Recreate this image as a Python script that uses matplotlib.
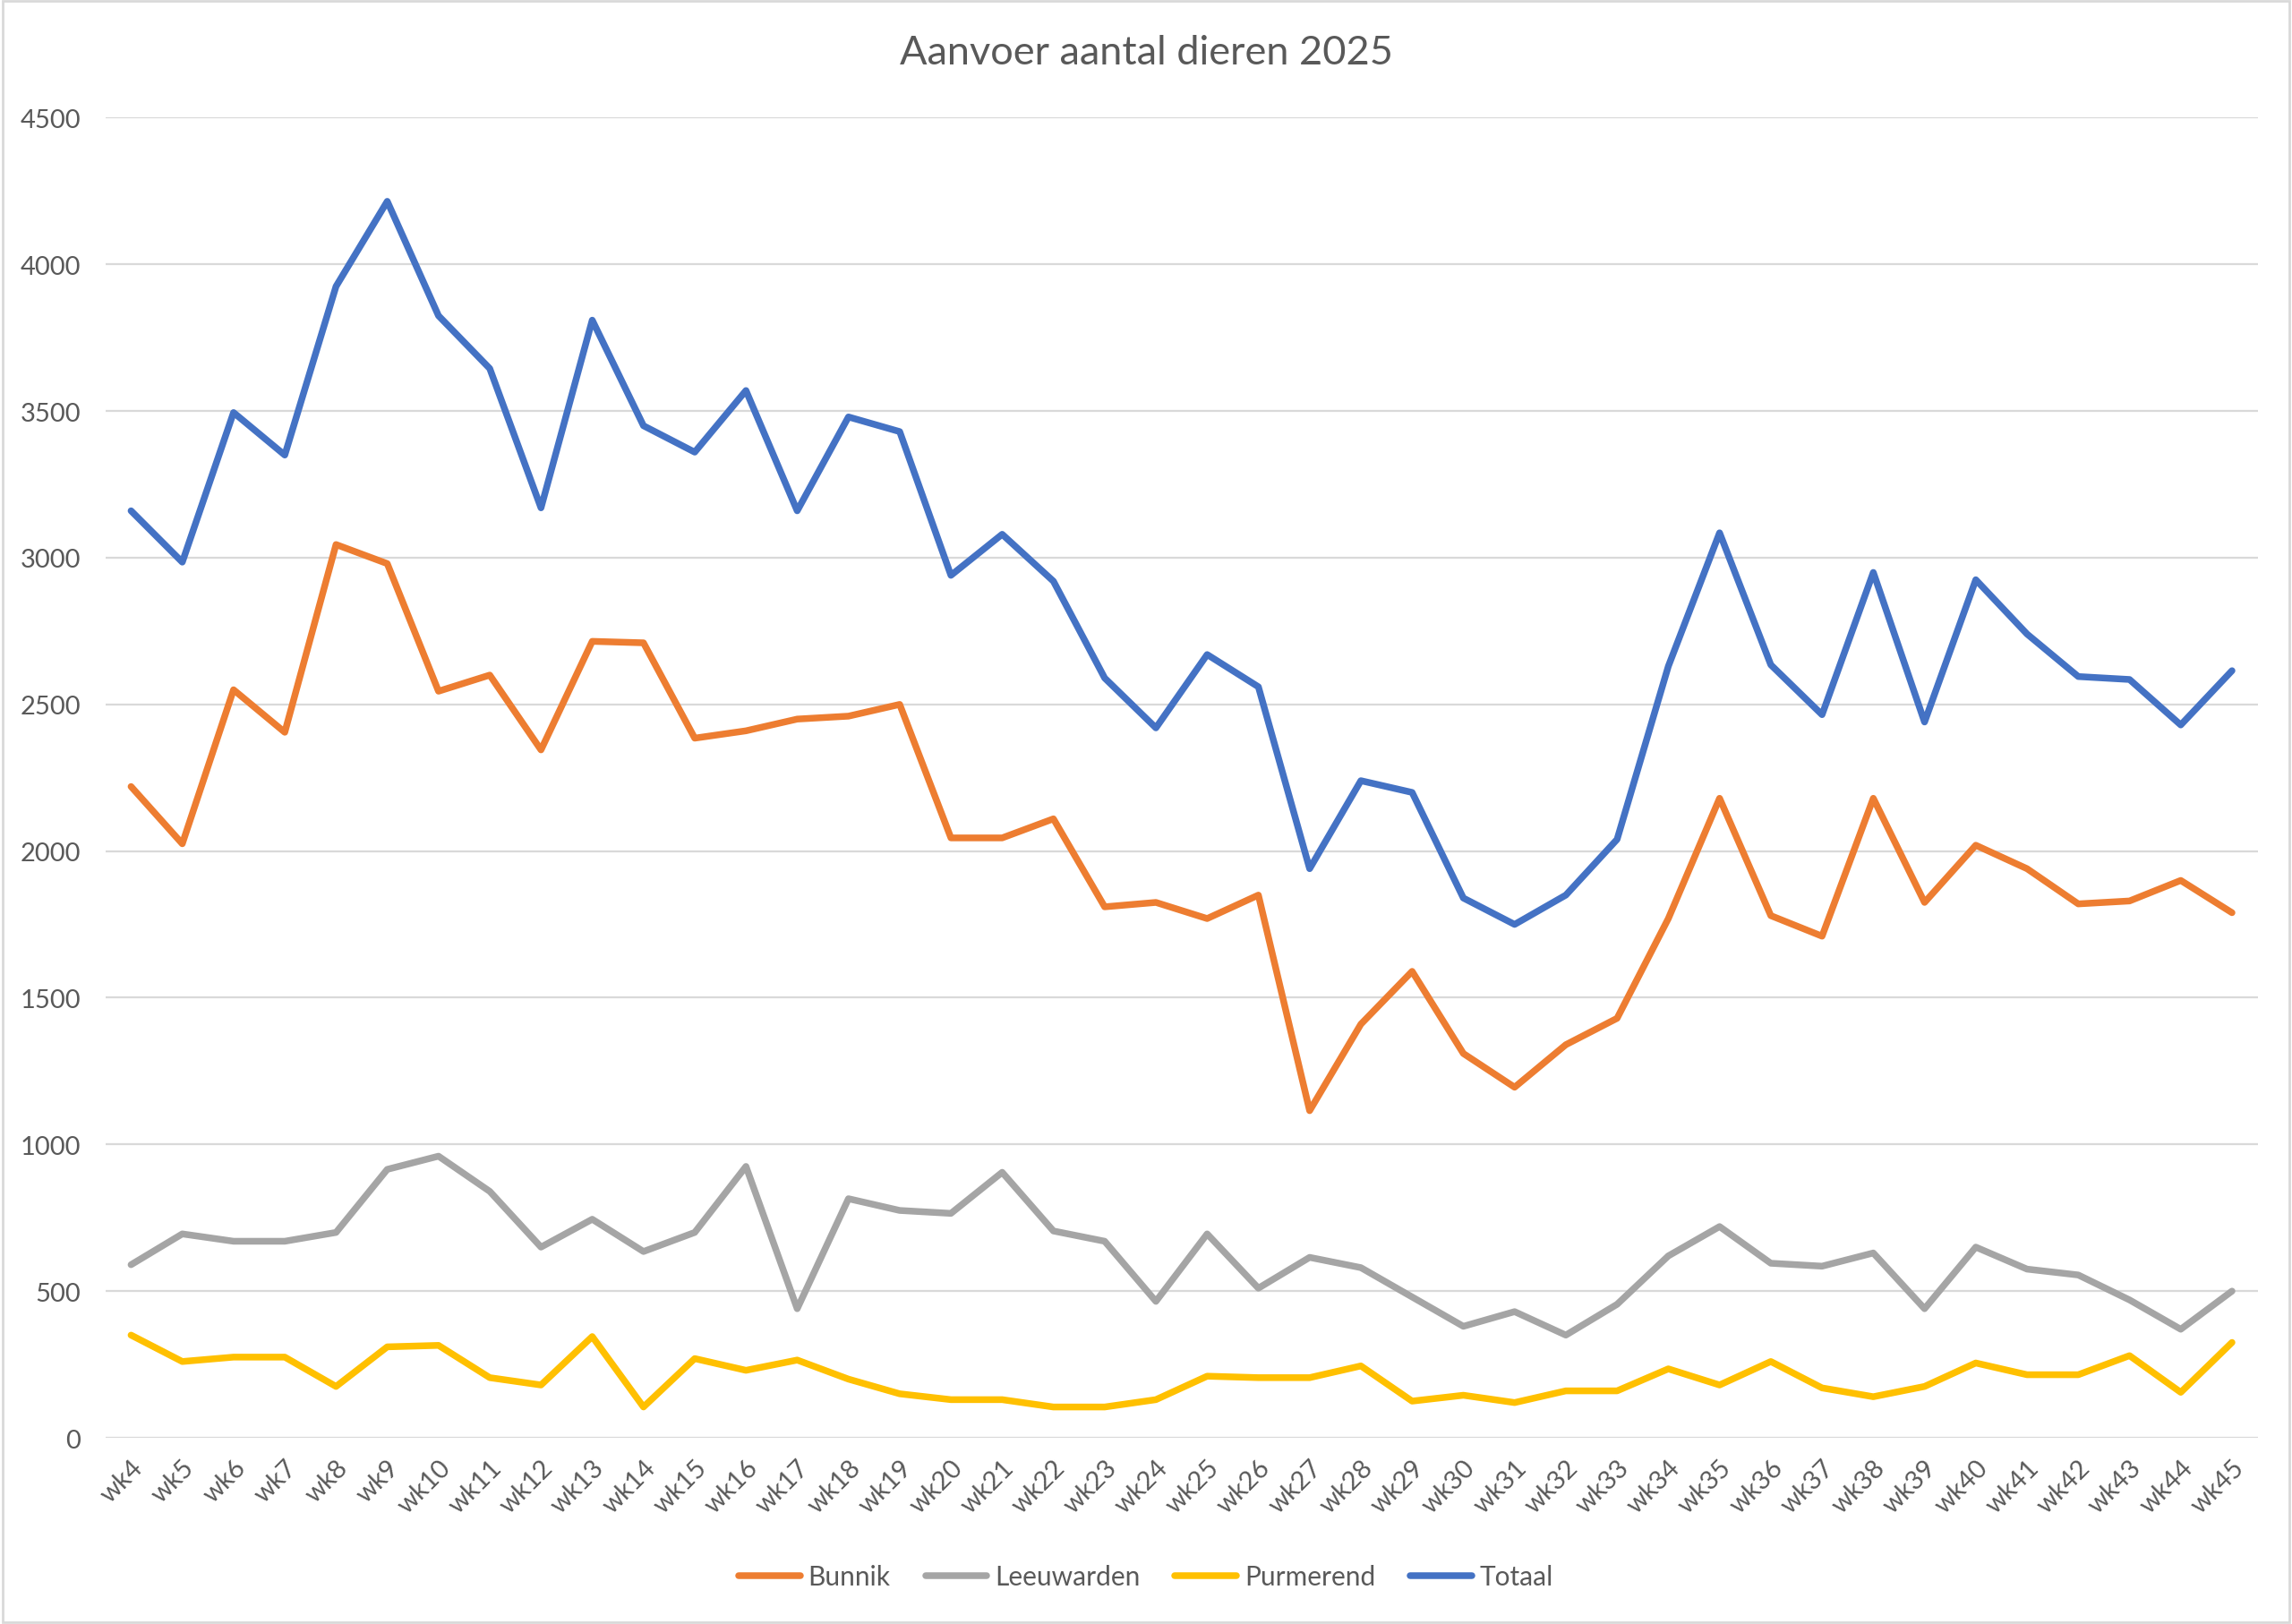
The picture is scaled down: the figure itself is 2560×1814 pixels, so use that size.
import matplotlib.pyplot as plt
from matplotlib.patches import Rectangle

# ------------------------------------
# Data
# ------------------------------------
weeks = ["wk" + str(w) for w in range(4, 46)]

bunnik = [2220, 2025, 2550, 2405, 3045, 2980, 2545, 2600, 2345, 2715,
          2710, 2385, 2410, 2450, 2460, 2500, 2045, 2045, 2110, 1810,
          1825, 1770, 1850, 1115, 1410, 1590, 1310, 1195, 1340, 1430,
          1770, 2180, 1780, 1710, 2180, 1825, 2020, 1940, 1820, 1830,
          1900, 1790]

leeuwarden = [590, 695, 670, 670, 700, 915, 960, 840, 650, 745,
              635, 700, 925, 440, 815, 775, 765, 905, 705, 670,
              465, 695, 510, 615, 580, 480, 380, 430, 350, 455,
              620, 720, 595, 585, 630, 440, 650, 575, 555, 470,
              370, 500]

purmerend = [350, 260, 275, 275, 175, 310, 315, 205, 180, 345,
             105, 270, 230, 265, 200, 150, 130, 130, 105, 105,
             130, 210, 205, 205, 245, 125, 145, 120, 160, 160,
             235, 180, 260, 170, 140, 175, 255, 215, 215, 280,
             155, 325]

totaal = [3160, 2985, 3495, 3350, 3925, 4215, 3825, 3645, 3170, 3810,
          3450, 3360, 3570, 3160, 3480, 3430, 2940, 3080, 2920, 2590,
          2420, 2670, 2560, 1940, 2240, 2200, 1840, 1750, 1850, 2040,
          2630, 3085, 2635, 2465, 2950, 2440, 2925, 2740, 2595, 2585,
          2430, 2615]

series = ["Bunnik", "Leeuwarden", "Purmerend", "Totaal"]
colors = ["#ED7D31", "#A5A5A5", "#FFC000", "#4472C4"]
yticks = [0, 500, 1000, 1500, 2000, 2500, 3000, 3500, 4000, 4500]

# ------------------------------------
# Chart
# ------------------------------------
plt.rcParams["font.family"] = ["Lato", "DejaVu Sans"]
text_color = "#595959"

fig = plt.figure(figsize=(25.6, 18.15), dpi=100)
ax = fig.add_axes([0.046, 0.1146, 0.939, 0.8124])

x = list(range(len(weeks)))
for name, vals, col in zip(series, [bunnik, leeuwarden, purmerend, totaal], colors):
    ax.plot(x, vals, color=col, lw=5.4, label=name,
            solid_joinstyle="round", solid_capstyle="round")

ax.set_xlim(-0.5, len(weeks) - 0.5)
ax.set_ylim(0, 4500)
ax.set_yticks(yticks)
ax.set_xticks(x)
ax.set_xticklabels(weeks, rotation=45, ha="right", va="top", rotation_mode="anchor")
ax.tick_params(axis="both", length=0, labelsize=21, colors=text_color)
ax.tick_params(axis="x", pad=14)
ax.tick_params(axis="y", pad=20)
ax.grid(axis="y", color="#D9D9D9", lw=1.6)
ax.set_axisbelow(True)
for s in ax.spines.values():
    s.set_visible(False)

fig.text(0.5, 0.967, "Aanvoer aantal dieren 2025", ha="center", va="center",
         fontsize=32.5, color=text_color)

leg = fig.legend(loc="center", bbox_to_anchor=(0.5, 0.029), ncol=4, frameon=False,
                 fontsize=21.5, handlelength=2.3, columnspacing=1.3, handletextpad=0.3)
for t in leg.get_texts():
    t.set_color(text_color)

# light chart-area border
fig.patches.append(Rectangle((0.001, 0.001), 0.998, 0.998, transform=fig.transFigure,
                             fill=False, edgecolor="#D9D9D9", lw=2))

fig.savefig("out.png", dpi=100)
